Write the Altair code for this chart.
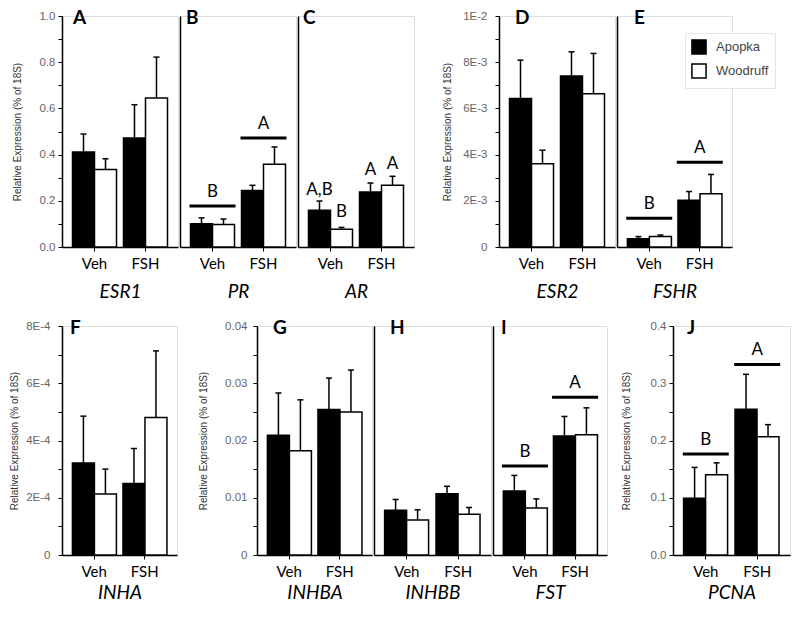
import altair as alt
import pandas as pd

treatments = ["Veh", "FSH"]
sites = ["Apopka", "Woodruff"]

# bar order: Veh-Apopka, Veh-Woodruff, FSH-Apopka, FSH-Woodruff
esr1_mean = [0.411, 0.335, 0.472, 0.645]
esr1_se = [0.078, 0.047, 0.144, 0.177]
pr_mean = [0.101, 0.097, 0.245, 0.358]
pr_se = [0.025, 0.024, 0.022, 0.075]
ar_mean = [0.159, 0.077, 0.238, 0.267]
ar_se = [0.040, 0.008, 0.039, 0.039]
esr2_mean = [0.00643, 0.0036, 0.0074, 0.00663]
esr2_se = [0.00166, 0.00059, 0.00105, 0.00175]
fshr_mean = [0.00036, 0.00045, 0.00202, 0.0023]
fshr_se = [0.00009, 0.00007, 0.00038, 0.00084]
inha_mean = [3.21e-4, 2.13e-4, 2.5e-4, 4.8e-4]
inha_se = [1.64e-4, 0.87e-4, 1.22e-4, 2.33e-4]
inhba_mean = [0.0209, 0.0182, 0.0254, 0.025]
inhba_se = [0.0074, 0.0089, 0.0055, 0.0073]
inhbb_mean = [0.0078, 0.0061, 0.0107, 0.0071]
inhbb_se = [0.0019, 0.0018, 0.0013, 0.0012]
fst_mean = [0.0112, 0.0082, 0.0208, 0.021]
fst_se = [0.0027, 0.0016, 0.0034, 0.0047]
pcna_mean = [0.099, 0.14, 0.2546, 0.2067]
pcna_se = [0.054, 0.021, 0.061, 0.021]

# group significance letters: treatment, letter, bar level
pr_groups = (["Veh", "FSH"], ["B", "A"], [0.177, 0.472])
fshr_groups = (["Veh", "FSH"], ["B", "A"], [0.00124, 0.00367])
fst_groups = (["Veh", "FSH"], ["B", "A"], [0.01555, 0.02757])
pcna_groups = (["Veh", "FSH"], ["B", "A"], [0.1765, 0.3328])
# individual bar letters for AR
ar_letters = (["Veh", "Veh", "FSH", "FSH"], ["Apopka", "Woodruff", "Apopka", "Woodruff"],
              ["A,B", "B", "A", "A"], [0.226, 0.13, 0.312, 0.338])

YTITLE = "Relative Expression (% of 18S)"
AX_FONT = "Liberation Sans"
CAL = "Lato"

fill_scale = alt.Scale(domain=sites, range=["black", "white"])
legend = alt.Legend(orient="none", legendX=623, legendY=17, title=None,
                    symbolType="square", symbolSize=200, symbolStrokeColor="black",
                    symbolStrokeWidth=1.5, labelFont=AX_FONT, labelFontSize=13,
                    labelColor="#444", fillColor="white", strokeColor="#e6e6e6",
                    padding=6, rowPadding=2, labelOffset=9)


def ticks(vmax, step):
    n = int(round(vmax / step))
    return [round(i * step, 10) for i in range(n + 1)]


def label_expr(major, kind):
    cond = f"abs(datum.value/{major} - round(datum.value/{major})) < 1e-6"
    if kind == "e":
        f = "(datum.value == 0 ? '0' : upper(format(datum.value, '.0e')))"
    elif kind == "1f":
        f = "format(datum.value, '.1f')"
    else:
        f = "format(datum.value, '~g')"
    return f"{cond} ? {f} : ''"


def panel(gene, letter, means, ses, ymax, minor, major, kind, width, height,
          letter_dx, main_axis, title_x=-50, label_pad=3, gene_pad=11,
          groups=None, barletters=None):
    tr = ["Veh", "Veh", "FSH", "FSH"]
    st = ["Apopka", "Woodruff", "Apopka", "Woodruff"]
    df = pd.DataFrame({"treatment": tr, "site": st, "mean": means,
                       "upper": [m + s for m, s in zip(means, ses)]})
    xaxis = alt.Axis(title=gene, titleFont=CAL, titleFontStyle="italic",
                     titleFontSize=19, titleFontWeight="normal", titleColor="black",
                     titlePadding=gene_pad, labelFont=CAL, labelFontSize=15,
                     labelColor="black", labelAngle=0, labelPadding=5, tickSize=4,
                     tickColor="black", tickWidth=1, domainColor="black",
                     domainWidth=1.5, grid=False)
    if main_axis:
        yaxis = alt.Axis(values=ticks(ymax, minor), labelExpr=label_expr(major, kind),
                         title=YTITLE, titleFont=AX_FONT, titleFontSize=10,
                         titleFontWeight="normal", titleColor="#333",
                         titleX=title_x, titleBaseline="middle",
                         labelFont=AX_FONT, labelFontSize=11.5, labelColor="#666",
                         labelPadding=label_pad, tickSize=4, tickColor="black",
                         domainColor="black", domainWidth=1.5, grid=False)
    else:
        yaxis = alt.Axis(labels=False, ticks=False, title=None, domain=True,
                         domainColor="black", domainWidth=1.5, grid=False,
                         minExtent=0)
    xs = alt.Scale(domain=treatments, paddingInner=0.137, paddingOuter=0.206)
    ysc = alt.Scale(domain=[0, ymax], nice=False, zero=True)

    def X():
        return alt.X("treatment:N", sort=treatments, scale=xs, axis=xaxis)

    def XO():
        return alt.XOffset("site:N", sort=sites,
                           scale=alt.Scale(domain=sites, paddingInner=0, paddingOuter=0))

    def Y(field):
        return alt.Y(f"{field}:Q", scale=ysc, axis=yaxis)

    base = alt.Chart(df)
    bars = base.mark_bar(stroke="black", strokeWidth=1.5).encode(
        x=X(), xOffset=XO(), y=Y("mean"),
        fill=alt.Fill("site:N", scale=fill_scale, legend=legend))
    err = base.mark_rule(color="black", strokeWidth=1.5).encode(
        x=X(), xOffset=XO(), y=Y("mean"), y2="upper:Q")
    cap = base.mark_tick(color="black", size=6, thickness=1.5, opacity=1).encode(
        x=X(), xOffset=XO(), y=Y("upper"))
    layers = [err, cap, bars]

    if groups is not None:
        gdf = pd.DataFrame({"treatment": groups[0], "letter": groups[1], "level": groups[2]})
        gb = alt.Chart(gdf)
        layers.append(gb.mark_tick(color="black", size=46, thickness=3, opacity=1).encode(
            x=X(), y=Y("level")))
        layers.append(gb.mark_text(font=CAL, fontSize=17, baseline="bottom", dy=-5,
                                   color="black").encode(
            x=X(), y=Y("level"), text="letter:N"))
    if barletters is not None:
        bdf = pd.DataFrame({"treatment": barletters[0], "site": barletters[1],
                            "letter": barletters[2], "level": barletters[3]})
        layers.append(alt.Chart(bdf).mark_text(font=CAL, fontSize=17, baseline="alphabetic",
                                               color="black").encode(
            x=X(), xOffset=XO(), y=Y("level"), text="letter:N"))

    ldf = pd.DataFrame({"t": [letter]})
    layers.append(alt.Chart(ldf).mark_text(font=CAL, fontSize=19, fontWeight="bold",
                                           align="left", baseline="alphabetic",
                                           color="black").encode(
        x=alt.value(letter_dx), y=alt.value(8), text="t:N"))

    return alt.layer(*layers).properties(width=width, height=height)


H1, H2 = 231, 229
pA = panel("ESR1", "A", esr1_mean, esr1_se, 1.0, 0.1, 0.2, "1f", 116, H1, 11, True,
           title_x=-45, label_pad=3)
pB = panel("PR", "B", pr_mean, pr_se, 1.0, 0.1, 0.2, "1f", 116, H1, 6, False,
           groups=pr_groups)
pC = panel("AR", "C", ar_mean, ar_se, 1.0, 0.1, 0.2, "1f", 116, H1, 5, False,
           barletters=ar_letters)
pD = panel("ESR2", "D", esr2_mean, esr2_se, 0.01, 0.001, 0.002, "e", 116, H1, 16, True,
           title_x=-52, label_pad=8)
pE = panel("FSHR", "E", fshr_mean, fshr_se, 0.01, 0.001, 0.002, "e", 115, H1, 17, False,
           groups=fshr_groups)
pF = panel("INHA", "F", inha_mean, inha_se, 8e-4, 1e-4, 2e-4, "e", 115, H2, 8, True,
           title_x=-48, label_pad=8, gene_pad=4)
pG = panel("INHBA", "G", inhba_mean, inhba_se, 0.04, 0.005, 0.01, "g", 115, H2, 16, True,
           title_x=-54, label_pad=6, gene_pad=4)
pH = panel("INHBB", "H", inhbb_mean, inhbb_se, 0.04, 0.005, 0.01, "g", 117, H2, 16, False,
           gene_pad=4)
pI = panel("FST", "I", fst_mean, fst_se, 0.04, 0.005, 0.01, "g", 114, H2, 8, False,
           gene_pad=4, groups=fst_groups)
pJ = panel("PCNA", "J", pcna_mean, pcna_se, 0.4, 0.05, 0.1, "1f", 117, H2, 14, True,
           title_x=-47, label_pad=3, gene_pad=4, groups=pcna_groups)

row1 = alt.hconcat(alt.hconcat(pA, pB, pC, spacing=0),
                   alt.hconcat(pD, pE, spacing=0),
                   spacing=26)
row2 = alt.hconcat(alt.hconcat(pF, alt.hconcat(pG, pH, pI, spacing=0), spacing=19),
                   pJ, spacing=12)

chart = alt.vconcat(row1, row2, spacing=16).properties(
    padding={"left": 0, "top": 0, "right": 0, "bottom": 0}
).configure_view(stroke="transparent", strokeWidth=0).configure(background="white")

chart.save("out.html", embed_options={"renderer": "svg", "actions": False})
